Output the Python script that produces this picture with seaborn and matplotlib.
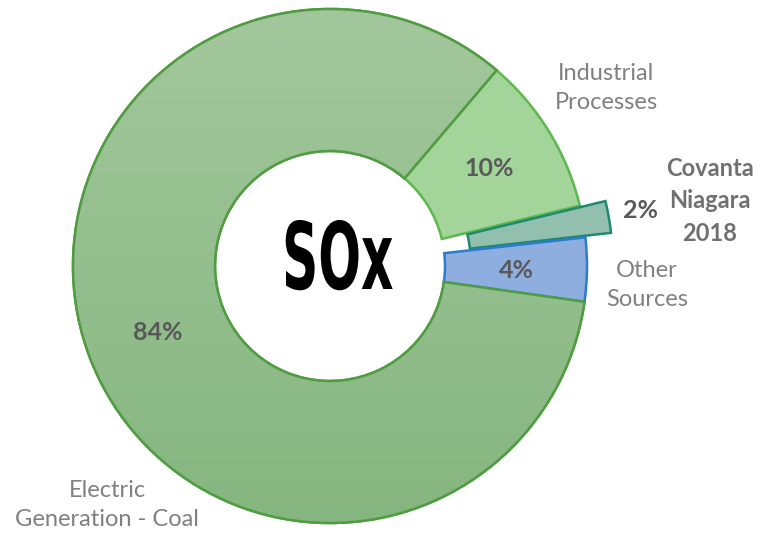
import numpy as np
import matplotlib.pyplot as plt
import matplotlib.patches as mpatches
from matplotlib.colors import LinearSegmentedColormap
from matplotlib.patheffects import AbstractPathEffect
from matplotlib.transforms import Affine2D
import seaborn as sns

# ── data ─────────────────────────────────────────────────────────────────────
categories = ['Electric\nGeneration - Coal', 'Industrial\nProcesses',
              'Covanta\nNiagara\n2018', 'Other\nSources']
shares     = [84, 10, 2, 4]
pct_labels = ['84%', '10%', '2%', '4%']
explode_px = [0, 0, 26, 0]
center_title = 'SOx'

fills  = ['#93be8c', '#a3d49a', '#93c0ae', '#8eaee0']
edges  = ['#4f9c41', '#5db84e', '#1e8a6e', '#2a7ccc']


class Squash(AbstractPathEffect):
    """narrow the glyphs horizontally around their own centre"""
    def __init__(self, sx):
        super().__init__()
        self.sx = sx

    def draw_path(self, renderer, gc, tpath, affine, rgbFace=None):
        xs = tpath.vertices[:, 0]
        xm = 0.5 * (xs.min() + xs.max())
        t = Affine2D().translate(-xm, 0).scale(self.sx, 1).translate(xm, 0) + affine
        renderer.draw_path(gc, tpath, t, rgbFace)


# ── style ────────────────────────────────────────────────────────────────────
sns.set_theme(style='white')
plt.rcParams['font.family'] = ['Lato', 'DejaVu Sans']

W, H = 762, 536
fig = plt.figure(figsize=(W / 100, H / 100), dpi=100)
ax = fig.add_axes([0, 0, 1, 1])

cx, cy = 330, H - 266
R, r_in = 257, 115

wedges, _ = ax.pie(shares, center=(cx, cy), radius=R, startangle=-8,
                   counterclock=False, explode=explode_px,
                   colors=fills, wedgeprops=dict(width=R - r_in, linewidth=1.8))
for w, ec in zip(wedges, edges):
    w.set_edgecolor(ec)

# soft vertical shading on the big coal ring
cmap = LinearSegmentedColormap.from_list('coal', ['#86b680', '#a2c79c'])
grad = np.linspace(0, 1, 256).reshape(-1, 1)
img = ax.imshow(grad, cmap=cmap, origin='lower', aspect='auto',
                extent=(cx - R, cx + R, cy - R, cy + R), zorder=1.5)
img.set_clip_path(wedges[0])
outline = mpatches.Wedge(wedges[0].center, R, wedges[0].theta1, wedges[0].theta2,
                         width=R - r_in, fill=False, edgecolor=edges[0],
                         linewidth=1.8, zorder=1.6)
ax.add_patch(outline)

ax.set_xlim(0, W)
ax.set_ylim(0, H)
ax.set_aspect('equal')
ax.axis('off')

# percentage labels (pixel positions of the reference)
pct_pos = [(158, 333), (489, 168), (641, 210), (516, 270)]
for txt, (x, y) in zip(pct_labels, pct_pos):
    ax.text(x, H - y, txt, ha='center', va='center', fontsize=18,
            fontweight='bold', color='#595959', zorder=3)

# category labels
cat_pos = [(107, 505), (606, 88), (710, 201), (647, 285)]
for i, (txt, (x, y)) in enumerate(zip(categories, cat_pos)):
    bold = i == 2
    ax.text(x, H - y, txt, ha='center', va='center', fontsize=17,
            fontweight='bold' if bold else 'normal',
            color='#707070' if bold else '#808080', linespacing=1.5)

# centre title
ax.text(cx + 8, H - 263, center_title, ha='center', va='center',
        fontsize=67, fontweight='bold', color='black', zorder=3,
        family=['DejaVu Sans'], path_effects=[Squash(0.54)])

fig.savefig('out.png', dpi=100)
